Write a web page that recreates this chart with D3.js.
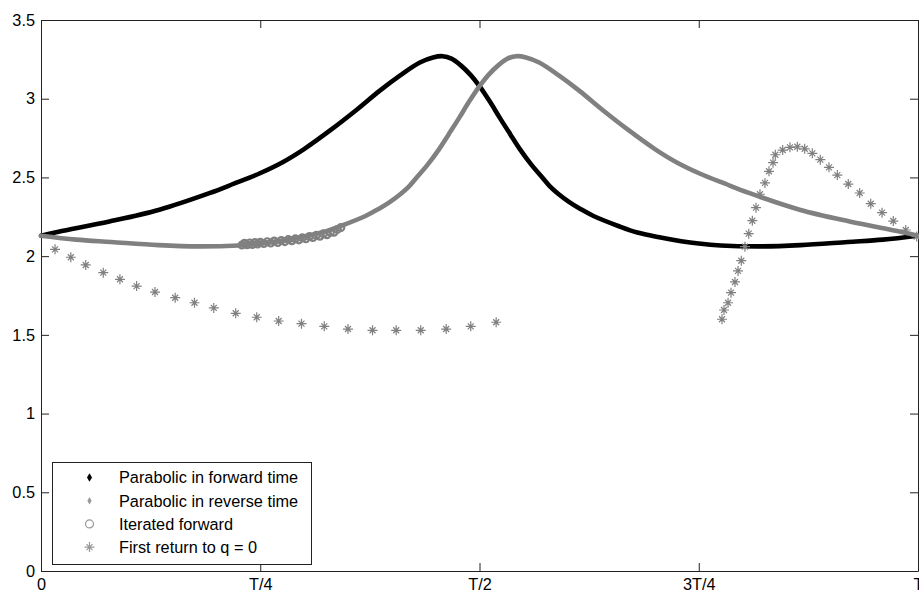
<!DOCTYPE html>
<html>
<head>
<meta charset="utf-8">
<script src="https://cdn.jsdelivr.net/npm/d3@7"></script>
<style>
  body { margin: 0; background: #fff; }
  svg { display: block; font-family: "Liberation Sans", Arial, sans-serif; }
</style>
</head>
<body>
<div id="container"></div>
<script>
/* DATA (time as a fraction of the period T) */
const xTicks = [0, 0.25, 0.5, 0.75, 1];
const xTickLabels = ["0", "T/4", "T/2", "3T/4", "T"];
const yTicks = [0, 0.5, 1, 1.5, 2, 2.5, 3, 3.5];
const yTickLabels = ["0", "0.5", "1", "1.5", "2", "2.5", "3", "3.5"];

// parabolic in forward time
const forwardT = [0, 0.02, 0.078, 0.135, 0.192, 0.22, 0.249, 0.275, 0.30, 0.33, 0.36, 0.386, 0.41, 0.432, 0.447, 0.458, 0.468, 0.478, 0.49, 0.50, 0.512, 0.523, 0.535, 0.546, 0.56, 0.57, 0.58, 0.59, 0.602, 0.615, 0.63, 0.659, 0.68, 0.705, 0.73, 0.75, 0.775, 0.82, 0.866, 0.92, 0.96, 1.0];
const forwardV = [2.13, 2.155, 2.22, 2.295, 2.40, 2.46, 2.525, 2.595, 2.68, 2.80, 2.93, 3.05, 3.15, 3.23, 3.262, 3.27, 3.255, 3.215, 3.15, 3.08, 2.98, 2.88, 2.775, 2.68, 2.575, 2.51, 2.445, 2.395, 2.345, 2.30, 2.255, 2.19, 2.15, 2.12, 2.095, 2.08, 2.068, 2.062, 2.07, 2.09, 2.105, 2.13];

// parabolic in reverse time
const reverseT = [0, 0.04, 0.08, 0.134, 0.18, 0.225, 0.25, 0.27, 0.295, 0.32, 0.341, 0.37, 0.385, 0.398, 0.41, 0.42, 0.43, 0.44, 0.454, 0.465, 0.477, 0.488, 0.50, 0.51, 0.522, 0.532, 0.542, 0.553, 0.568, 0.59, 0.614, 0.64, 0.67, 0.70, 0.725, 0.751, 0.78, 0.808, 0.865, 0.922, 0.98, 1.0];
const reverseV = [2.13, 2.105, 2.09, 2.07, 2.062, 2.068, 2.08, 2.095, 2.12, 2.15, 2.19, 2.255, 2.30, 2.345, 2.395, 2.445, 2.51, 2.575, 2.68, 2.775, 2.88, 2.98, 3.08, 3.15, 3.215, 3.255, 3.27, 3.262, 3.23, 3.15, 3.05, 2.93, 2.80, 2.68, 2.595, 2.525, 2.46, 2.40, 2.295, 2.22, 2.155, 2.13];

// iterated forward
const iterT = [0.229, 0.232, 0.235, 0.238, 0.241, 0.244, 0.247, 0.25, 0.254, 0.258, 0.262, 0.266, 0.27, 0.274, 0.278, 0.282, 0.286, 0.29, 0.294, 0.298, 0.302, 0.306, 0.31, 0.314, 0.318, 0.322, 0.326, 0.33, 0.334, 0.338, 0.342];
const iterV = [2.07, 2.082, 2.072, 2.084, 2.074, 2.086, 2.077, 2.088, 2.08, 2.092, 2.083, 2.096, 2.087, 2.1, 2.092, 2.105, 2.097, 2.11, 2.103, 2.117, 2.11, 2.124, 2.118, 2.132, 2.126, 2.142, 2.136, 2.152, 2.152, 2.17, 2.182];

// first return to q = 0
const returnT = [0.016, 0.034, 0.051, 0.071, 0.09, 0.109, 0.13, 0.153, 0.175, 0.197, 0.222, 0.246, 0.271, 0.297, 0.323, 0.35, 0.378, 0.405, 0.433, 0.462, 0.49, 0.519,
  0.7765, 0.7788, 0.7834, 0.7868, 0.7913, 0.7948, 0.7985, 0.8027, 0.807, 0.8111, 0.8153, 0.8198, 0.8255, 0.8301, 0.8347, 0.8373, 0.8457, 0.854, 0.8624, 0.8708, 0.8795, 0.8886, 0.8985, 0.908, 0.9205, 0.9335, 0.9461, 0.959, 0.9718, 0.986, 0.9985];
const returnV = [2.043, 1.993, 1.944, 1.895, 1.853, 1.81, 1.772, 1.736, 1.704, 1.671, 1.637, 1.612, 1.588, 1.571, 1.554, 1.537, 1.529, 1.529, 1.529, 1.537, 1.554, 1.58,
  1.599, 1.658, 1.704, 1.768, 1.836, 1.906, 1.971, 2.06, 2.143, 2.225, 2.308, 2.393, 2.465, 2.539, 2.594, 2.644, 2.674, 2.691, 2.695, 2.682, 2.653, 2.613, 2.564, 2.515, 2.458, 2.401, 2.333, 2.276, 2.223, 2.166, 2.124];

const legendLabels = ["Parabolic in forward time", "Parabolic in reverse time", "Iterated forward", "First return to q = 0"];

/* LAYOUT */
const width = 919, height = 593;
const margin = { top: 20, left: 41, right: 1, bottom: 22 };
const GRAY = "#808080";
const FONT = 16.3;

const svg = d3.select("#container").append("svg")
  .attr("width", width)
  .attr("height", height);

const xScale = d3.scaleLinear().domain([0, 1]).range([margin.left, width - margin.right]);
const yScale = d3.scaleLinear().domain([0, 3.5]).range([height - margin.bottom, margin.top]);

const zip = (ts, vs) => ts.map((t, i) => ({ t, v: vs[i] }));

/* AXES (MATLAB style box, inward ticks) */
const fmtX = d => xTickLabels[xTicks.indexOf(d)];
const fmtY = d => yTickLabels[yTicks.indexOf(d)];

function styleAxis(g) {
  g.select(".domain").attr("stroke", "#222");
  g.selectAll(".tick line").attr("stroke", "#222");
  g.selectAll("text").attr("fill", "#000").style("font-size", FONT + "px").style("font-family", "Liberation Sans, Arial, sans-serif");
}

svg.append("g")
  .attr("transform", `translate(0, ${yScale(0)})`)
  .call(d3.axisBottom(xScale).tickValues(xTicks).tickFormat(fmtX).tickSize(-8).tickSizeOuter(0).tickPadding(7))
  .call(styleAxis);

svg.append("g")
  .attr("transform", `translate(0, ${yScale(3.5)})`)
  .call(d3.axisTop(xScale).tickValues(xTicks).tickFormat("").tickSize(-8).tickSizeOuter(0))
  .call(styleAxis);

svg.append("g")
  .attr("transform", `translate(${xScale(0)}, 0)`)
  .call(d3.axisLeft(yScale).tickValues(yTicks).tickFormat(fmtY).tickSize(-8).tickSizeOuter(0).tickPadding(6))
  .call(styleAxis);

svg.append("g")
  .attr("transform", `translate(${xScale(1)}, 0)`)
  .call(d3.axisRight(yScale).tickValues(yTicks).tickFormat("").tickSize(-8).tickSizeOuter(0))
  .call(styleAxis);

/* SERIES */
const line = d3.line()
  .x(d => xScale(d.t))
  .y(d => yScale(d.v))
  .curve(d3.curveCatmullRom.alpha(0.5));

svg.append("path")
  .datum(zip(forwardT, forwardV))
  .attr("d", line)
  .attr("fill", "none")
  .attr("stroke", "#000")
  .attr("stroke-width", 4.6)
  .attr("stroke-linecap", "round");

svg.append("path")
  .datum(zip(reverseT, reverseV))
  .attr("d", line)
  .attr("fill", "none")
  .attr("stroke", GRAY)
  .attr("stroke-width", 4.6)
  .attr("stroke-linecap", "round");

svg.append("g")
  .selectAll("circle")
  .data(zip(iterT, iterV))
  .join("circle")
  .attr("cx", d => xScale(d.t))
  .attr("cy", d => yScale(d.v))
  .attr("r", 3.4)
  .attr("fill", "none")
  .attr("stroke", GRAY)
  .attr("stroke-width", 2.2);

const starPath = "M-5,0H5M0,-5V5M-3,-3L3,3M-3,3L3,-3";
svg.append("g")
  .selectAll("path")
  .data(zip(returnT, returnV))
  .join("path")
  .attr("transform", d => `translate(${xScale(d.t)}, ${yScale(d.v)})`)
  .attr("d", starPath)
  .attr("fill", "none")
  .attr("stroke", GRAY)
  .attr("stroke-width", 1.2);

/* LEGEND */
const legend = svg.append("g").attr("transform", "translate(52, 462)");
legend.append("rect")
  .attr("x", 0.5).attr("y", 0.5)
  .attr("width", 259).attr("height", 102)
  .attr("fill", "#fff")
  .attr("stroke", "#222");

const rows = legend.selectAll("g.row")
  .data(legendLabels)
  .join("g")
  .attr("class", "row")
  .attr("transform", (d, i) => `translate(0, ${15.5 + i * 23.2})`);

rows.append("text")
  .attr("x", 67)
  .attr("dy", "0.36em")
  .style("font-size", FONT + "px")
  .attr("fill", "#000")
  .text(d => d);

rows.filter((d, i) => i === 0).append("path")
  .attr("transform", "translate(37.5,0)")
  .attr("d", d3.symbol(d3.symbolDiamond, 22))
  .attr("fill", "#000");
rows.filter((d, i) => i === 1).append("path")
  .attr("transform", "translate(37.5,0)")
  .attr("d", d3.symbol(d3.symbolDiamond, 16))
  .attr("fill", "#999");
rows.filter((d, i) => i === 2).append("circle")
  .attr("cx", 37.5).attr("r", 4)
  .attr("fill", "none")
  .attr("stroke", "#999")
  .attr("stroke-width", 1.2);
rows.filter((d, i) => i === 3).append("path")
  .attr("transform", "translate(37.5,0)")
  .attr("d", starPath)
  .attr("fill", "none")
  .attr("stroke", "#999")
  .attr("stroke-width", 1.2);
</script>
</body>
</html>
